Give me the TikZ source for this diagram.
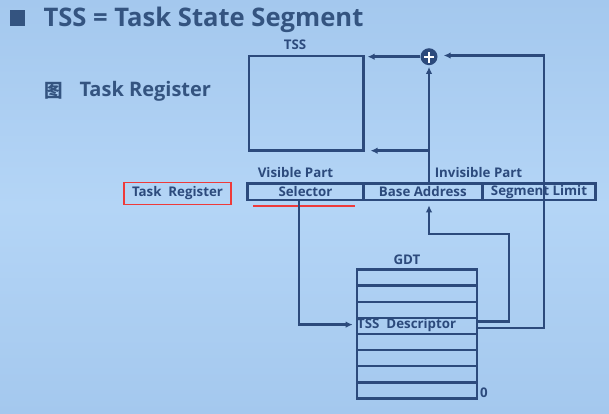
\documentclass[tikz,border=0pt]{standalone}
\usepackage{fontspec}
\setmainfont{Open Sans}
\newfontfamily\cjkfont{Noto Sans CJK SC}
\usetikzlibrary{arrows.meta,calc}
\definecolor{bgtop}{RGB}{164,200,238}
\definecolor{bgmid}{RGB}{180,213,246}
\definecolor{ink}{RGB}{44,74,124}
\definecolor{titleink}{RGB}{52,84,128}
\definecolor{redbox}{RGB}{238,58,58}
\tikzset{
  x=1pt,y=1pt,
  lbl/.style={font=\fontsize{13.3}{15}\selectfont\bfseries, text=ink, inner sep=0pt},
  cell/.style={draw=ink, line width=2.6pt, minimum height=16.7pt, inner sep=0pt, font=\fontsize{13.3}{15}\selectfont\bfseries, text=ink},
  row/.style={draw=ink, line width=2.5pt, minimum width=120pt, minimum height=16.1pt, inner sep=0pt, anchor=north west},
  conn/.style={draw=ink, line width=2.5pt},
  arr/.style={conn, -{Latex[length=7pt,width=6.5pt]}},
}
\begin{document}
\begin{tikzpicture}
\useasboundingbox (0,0) rectangle (609,-413);
\shade[top color=bgtop, bottom color=bgtop, middle color=bgmid] (0,0) rectangle (609,-413);
% title
\fill[titleink] (10,-10) rectangle (25,-25.7);
\node[anchor=base west, inner sep=0pt, text=titleink, font=\fontsize{25.6}{28}\selectfont\bfseries] (title) at (43.3,-26) {TSS = Task State Segment};
\node[anchor=center, inner sep=0pt, text=titleink, font=\fontsize{18.5}{20}\selectfont\cjkfont\bfseries] (tu) at (53.5,-90.5) {图};
\node[anchor=base west, inner sep=0pt, text=titleink, font=\fontsize{20}{24}\selectfont\bfseries] (trtitle) at (79.3,-96.7) {Task Register};
% TSS box
\node[lbl] (tsslbl) at (295,-45) {TSS};
\node[draw=ink, line width=2.5pt, minimum width=114.3pt, minimum height=94.7pt, inner sep=0pt] (tssbox) at (306.2,-103.35) {};
% adder
\node[circle, fill=ink, minimum size=17pt, inner sep=0pt] (plus) at (429,-56.7) {};
\draw[white, line width=1.8pt] ($(plus.center)+(-5,0)$) -- ($(plus.center)+(5,0)$);
\draw[white, line width=1.8pt] ($(plus.center)+(0,-6)$) -- ($(plus.center)+(0,5)$);
% register
\node[lbl] (vis) at (295.5,-172.7) {Visible Part};
\node[lbl] (invis) at (478.5,-172.7) {Invisible Part};
\node[cell, minimum width=115.6pt] (sel) at (305.5,-191.65) {Selector};
\node[cell, minimum width=119pt] (base) at (422.8,-191.65) {Base Address};
\node[cell, minimum width=113.4pt] (lim) at (539,-191.65) {Segment Limit};
\node[draw=redbox, line width=1.1pt, minimum width=107pt, minimum height=21.6pt, inner sep=0pt, font=\fontsize{13.3}{15}\selectfont\bfseries, text=ink] (tr) at (177.5,-193.5) {Task\ \ Register};
\coordinate (ulA) at (253,-205.9);
\coordinate (ulB) at (355,-205.9);
\draw[redbox, line width=1.8pt] (ulA) -- (ulB);
% GDT
\node[lbl] (gdtlbl) at (407,-260) {GDT};
\node[row] (g1) at (355.7,-268.3) {};
\node[row] (g2) at (355.7,-284.4) {};
\node[row] (g3) at (355.7,-300.5) {};
\node[row] (g4) at (355.7,-316.6) {};
\node[row] (g5) at (355.7,-332.7) {};
\node[row] (g6) at (355.7,-348.8) {};
\node[row] (g7) at (355.7,-364.9) {};
\node[row] (g8) at (355.7,-381.0) {};
\node[lbl, anchor=west] (desc) at (357,-325) {TSS\ \ Descriptor};
\node[lbl] (zero) at (484,-393) {0};
% connectors
\coordinate (c1) at (299,-324.6);
\draw[arr, shorten >=3pt] (sel.south -| c1) -- (c1) -- (c1 -| g4.west);
\coordinate (c2a) at (509,-321.7);
\coordinate (c2b) at (509,-234);
\coordinate (c2c) at (429,-234);
\draw[arr, shorten >=4pt] (c2a -| g4.east) -- (c2a) -- (c2b) -- (c2c) -- (c2c |- base.south);
\coordinate (c3a) at (544,-328);
\coordinate (c3b) at (544,-55.5);
\draw[arr, shorten >=6pt] (c3a -| g4.east) -- (c3a) -- (c3b) -- (c3b -| plus.east);
\coordinate (c4) at (429,-150.7);
\draw[arr, shorten >=1.5pt] (c4 |- base.north) -- (plus.south);
\draw[arr, shorten >=6pt] (c4) -- (c4 -| tssbox.east);
\draw[arr, shorten >=3pt] (plus.west) -- (plus.west -| tssbox.east);
\end{tikzpicture}
\end{document}
